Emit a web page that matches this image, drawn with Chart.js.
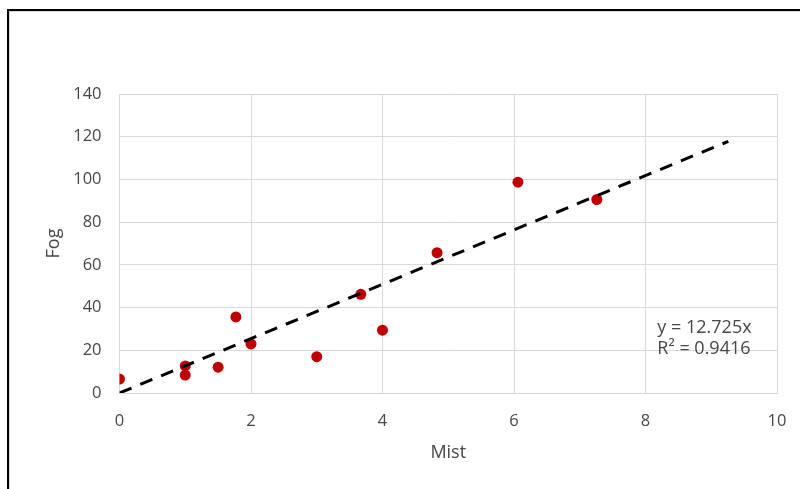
<!DOCTYPE html>
<html>
<head>
<meta charset="utf-8">
<script src="https://cdn.jsdelivr.net/npm/chart.js@4.4.1/dist/chart.umd.min.js"></script>
<style>
  html, body { margin: 0; padding: 0; background: #ffffff; }
  #wrap { position: relative; width: 800px; height: 489px; overflow: hidden; }
  #frame { position: absolute; left: 7px; top: 9px; width: 820px; height: 500px;
           border-left: 2px solid #000; border-top: 2px solid #000; box-sizing: border-box; }
  #inner { position: absolute; left: 9px; top: 11px; width: 820px; height: 500px;
           border-left: 1px solid #d9d9d9; border-top: 1px solid #d9d9d9; box-sizing: border-box; }
  #chart { position: absolute; left: 0; top: 0; }
</style>
</head>
<body>
<div id="wrap">
  <div id="frame"></div>
  <div id="inner"></div>
  <canvas id="chart" width="800" height="489"></canvas>
</div>
<script>
// Observations: Mist (x) against Fog (y)
const mist = [0, 1, 1, 1.5, 1.77, 2, 3, 3.67, 4, 4.83, 6.06, 7.26];
const fog  = [6.5, 12.7, 8.4, 12.1, 35.6, 23, 17, 46.2, 29.4, 65.7, 98.7, 90.6];

// Linear trend through the origin
const slope = 12.725;
const rSquared = 0.9416;
const trendStart = 0;
const trendEnd = 9.26;

// Axis ranges and tick steps
const xTicks = [0, 2, 4, 6, 8, 10];
const yTicks = [0, 20, 40, 60, 80, 100, 120, 140];

// Where the trend equation sits (data coordinates)
const eqPos = { x: 8.18, y: 30.6 };

const points = mist.map((m, i) => ({ x: m, y: fog[i] }));
const trend = [trendStart, trendEnd].map(x => ({ x: x, y: slope * x }));

const textColor = '#474747';
const gridColor = '#d9d9d9';
const fontFamily = '"Open Sans", "Noto Sans", sans-serif';

const equationLabel = {
  id: 'equationLabel',
  afterDatasetsDraw(chart) {
    const { ctx, scales } = chart;
    const px = scales.x.getPixelForValue(eqPos.x);
    const py = scales.y.getPixelForValue(eqPos.y);
    ctx.save();
    ctx.fillStyle = textColor;
    ctx.font = '18px ' + fontFamily;
    ctx.textAlign = 'left';
    ctx.textBaseline = 'middle';
    ctx.fillText('y = ' + slope + 'x', px, py);
    ctx.fillText('R\u00B2 = ' + rSquared, px, py + 21);
    ctx.restore();
  }
};

new Chart(document.getElementById('chart'), {
  type: 'scatter',
  data: {
    datasets: [
      {
        label: 'Fog',
        data: points,
        backgroundColor: '#c00000',
        borderWidth: 0,
        pointRadius: 5.5,
        pointHoverRadius: 5.5,
        order: 2
      },
      {
        type: 'line',
        label: 'Trend',
        data: trend,
        borderColor: '#000000',
        borderWidth: 3,
        borderDash: [13, 9.5],
        pointRadius: 0,
        fill: false,
        showLine: true,
        order: 1
      }
    ]
  },
  options: {
    responsive: false,
    animation: false,
    events: [],
    layout: { padding: { top: 94, right: 23, bottom: 0, left: 0 } },
    plugins: { legend: { display: false }, tooltip: { enabled: false } },
    scales: {
      x: {
        type: 'linear',
        min: xTicks[0],
        max: xTicks[xTicks.length - 1],
        afterBuildTicks: s => { s.ticks = xTicks.map(v => ({ value: v })); },
        afterFit: s => { s.height = 96; s.paddingLeft = 0; s.paddingRight = 0; },
        grid: { color: gridColor, lineWidth: 1, drawTicks: false },
        border: { color: gridColor, width: 1 },
        ticks: { color: textColor, font: { size: 16.5, family: fontFamily }, padding: 18, maxRotation: 0 },
        title: { display: true, text: 'Mist', color: textColor,
                 font: { size: 18, family: fontFamily }, padding: { top: 0, bottom: 25 } }
      },
      y: {
        type: 'linear',
        min: yTicks[0],
        max: yTicks[yTicks.length - 1],
        afterBuildTicks: s => { s.ticks = yTicks.map(v => ({ value: v })); },
        afterFit: s => { s.width = 119.5; },
        grid: { color: gridColor, lineWidth: 1, drawTicks: false },
        border: { color: gridColor, width: 1 },
        ticks: { color: textColor, font: { size: 16.5, family: fontFamily }, padding: 18 },
        title: { display: true, text: 'Fog', color: textColor,
                 font: { size: 18, family: fontFamily }, padding: { top: 43, bottom: 0 } }
      }
    }
  },
  plugins: [equationLabel]
});
</script>
</body>
</html>
